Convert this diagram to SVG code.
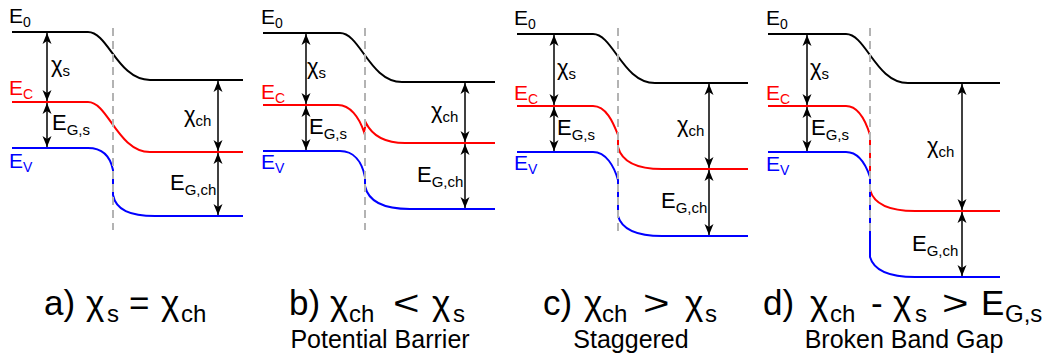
<svg xmlns="http://www.w3.org/2000/svg" width="1048" height="361" viewBox="0 0 1048 361">
<style>
text{font-family:"Liberation Sans",Arial,sans-serif;fill:#000}
.band{font-size:21px}
.bs{font-size:14px}
.lab{font-size:22px}
.ls{font-size:15px}
.cap{font-size:35px}
.cs{font-size:24px}
.sub{font-size:25px;text-anchor:middle}
.k{fill:none;stroke:#000;stroke-width:2}
.r{fill:none;stroke:#ff0000;stroke-width:2}
.b{fill:none;stroke:#0000ff;stroke-width:2}
.dash{fill:none;stroke:#b3b3b3;stroke-width:2;stroke-dasharray:8 5}
.arr{fill:none;stroke:#000;stroke-width:1.5;marker-start:url(#ah);marker-end:url(#ah)}
.red{fill:#ff0000}
.blue{fill:#0000ff}
</style>
<defs>
<marker id="ah" viewBox="-12 -5 13 10" refX="0" refY="0" markerWidth="13" markerHeight="10" markerUnits="userSpaceOnUse" orient="auto-start-reverse">
<path d="M0,0 L-11,-4.5 L-8,0 L-11,4.5 Z" fill="#000"/>
</marker>
</defs>

<g id="panel-a">
<path class="k" d="M12,32 H88 C108,32 118,80 150,80 H243"/>
<path class="r" d="M12,102 H88 C108,102 118,152 150,152 H243"/>
<path class="b" d="M12,148 H88 C102,148 110,155 113,170 V195 C116,210 130,216 155,216 H243"/>
<line class="dash" x1="113" y1="28" x2="113" y2="230"/>
<text class="band" x="9" y="23">E<tspan class="bs" dy="4">0</tspan></text>
<text class="band red" x="9" y="95">E<tspan class="bs red" dy="4">C</tspan></text>
<text class="band blue" x="9" y="168">E<tspan class="bs blue" dy="4">V</tspan></text>
<text class="lab" x="51" y="72">χ<tspan class="ls" dy="4">s</tspan></text>
<text class="lab" x="52" y="130">E<tspan class="ls" dy="5">G,s</tspan></text>
<text class="lab" x="184" y="122">χ<tspan class="ls" dy="4">ch</tspan></text>
<text class="lab" x="170" y="190">E<tspan class="ls" dy="5">G,ch</tspan></text>
</g>

<g id="panel-b">
<path class="k" d="M263,33 H340 C360,33 370,82 402,82 H495"/>
<path class="r" d="M263,105 H338 C350,105 359,117 364,132 L366,123 C372,135 385,143 405,143 H495"/>
<path class="b" d="M263,151 H340 C354,151 362,162 365,177 V186 C368,200 382,209 410,209 H495"/>
<line class="dash" x1="365" y1="28" x2="365" y2="230"/>
<text class="band" x="261" y="24">E<tspan class="bs" dy="4">0</tspan></text>
<text class="band red" x="261" y="99">E<tspan class="bs red" dy="4">C</tspan></text>
<text class="band blue" x="261" y="169">E<tspan class="bs blue" dy="4">V</tspan></text>
<text class="lab" x="307" y="74">χ<tspan class="ls" dy="4">s</tspan></text>
<text class="lab" x="309" y="134">E<tspan class="ls" dy="5">G,s</tspan></text>
<text class="lab" x="431" y="118">χ<tspan class="ls" dy="4">ch</tspan></text>
<text class="lab" x="417" y="182">E<tspan class="ls" dy="5">G,ch</tspan></text>
</g>

<g id="panel-c">
<path class="k" d="M517,34 H593 C613,34 623,83 655,83 H748"/>
<path class="r" d="M517,106 H593 C606,106 613,122 618,135 V147 C622,162 638,169 662,169 H748"/>
<path class="b" d="M517,152 H593 C606,152 614,166 618,180 V216 C622,230 638,236 662,236 H748"/>
<line class="dash" x1="618" y1="28" x2="618" y2="236"/>
<text class="band" x="514" y="25">E<tspan class="bs" dy="4">0</tspan></text>
<text class="band red" x="514" y="100">E<tspan class="bs red" dy="4">C</tspan></text>
<text class="band blue" x="514" y="170">E<tspan class="bs blue" dy="4">V</tspan></text>
<text class="lab" x="557" y="75">χ<tspan class="ls" dy="4">s</tspan></text>
<text class="lab" x="557" y="135">E<tspan class="ls" dy="5">G,s</tspan></text>
<text class="lab" x="677" y="132">χ<tspan class="ls" dy="4">ch</tspan></text>
<text class="lab" x="661" y="208">E<tspan class="ls" dy="5">G,ch</tspan></text>
</g>

<g id="panel-d">
<path class="k" d="M768,34 H846 C866,34 876,83 908,83 H1000"/>
<path class="r" d="M768,106 H846 C859,106 866,122 870,135 V190 C874,204 890,211 915,211 H1000"/>
<path class="b" d="M768,152 H846 C859,152 866,165 870,177 V257 C874,271 890,277 915,277 H1000"/>
<line class="dash" x1="870" y1="28" x2="870" y2="236"/>
<text class="band" x="766" y="25">E<tspan class="bs" dy="4">0</tspan></text>
<text class="band red" x="766" y="100">E<tspan class="bs red" dy="4">C</tspan></text>
<text class="band blue" x="766" y="171">E<tspan class="bs blue" dy="4">V</tspan></text>
<text class="lab" x="810" y="75">χ<tspan class="ls" dy="4">s</tspan></text>
<text class="lab" x="811" y="135">E<tspan class="ls" dy="5">G,s</tspan></text>
<text class="lab" x="927" y="153">χ<tspan class="ls" dy="4">ch</tspan></text>
<text class="lab" x="912" y="251">E<tspan class="ls" dy="5">G,ch</tspan></text>
</g>

<g id="connectors">
<line class="arr" x1="47" y1="33" x2="47" y2="101"/>
<line class="arr" x1="47" y1="103" x2="47" y2="147"/>
<line class="arr" x1="218" y1="81" x2="218" y2="151"/>
<line class="arr" x1="218" y1="153" x2="218" y2="215"/>
<line class="arr" x1="306" y1="34" x2="306" y2="104"/>
<line class="arr" x1="306" y1="106" x2="306" y2="150"/>
<line class="arr" x1="465" y1="83" x2="465" y2="142"/>
<line class="arr" x1="465" y1="144" x2="465" y2="208"/>
<line class="arr" x1="554" y1="35" x2="554" y2="105"/>
<line class="arr" x1="554" y1="107" x2="554" y2="151"/>
<line class="arr" x1="709" y1="84" x2="709" y2="168"/>
<line class="arr" x1="709" y1="170" x2="709" y2="235"/>
<line class="arr" x1="807" y1="35" x2="807" y2="105"/>
<line class="arr" x1="807" y1="107" x2="807" y2="151"/>
<line class="arr" x1="962" y1="84" x2="962" y2="210"/>
<line class="arr" x1="962" y1="212" x2="962" y2="276"/>
</g>

<g id="caption-a">
<text class="cap" y="315"><tspan x="44">a)</tspan><tspan x="86">χ</tspan><tspan class="cs" x="107" y="322">s</tspan><tspan x="129" y="315">=</tspan><tspan x="161">χ</tspan><tspan class="cs" x="181" y="322">ch</tspan></text>
</g>
<g id="caption-b">
<text class="cap" y="315"><tspan x="289">b)</tspan><tspan x="330">χ</tspan><tspan class="cs" x="349" y="322">ch</tspan><tspan x="432" y="315">χ</tspan><tspan class="cs" x="453" y="322">s</tspan></text>
<text class="cap" transform="translate(393,315) scale(1.3,1)">&lt;</text>
<text class="sub" x="380" y="348">Potential Barrier</text>
</g>
<g id="caption-c">
<text class="cap" y="315"><tspan x="543">c)</tspan><tspan x="584">χ</tspan><tspan class="cs" x="602" y="322">ch</tspan><tspan x="685" y="315">χ</tspan><tspan class="cs" x="705" y="322">s</tspan></text>
<text class="cap" transform="translate(643,315) scale(1.3,1)">&gt;</text>
<text class="sub" x="631" y="348">Staggered</text>
</g>
<g id="caption-d">
<text class="cap" y="315"><tspan x="763">d)</tspan><tspan x="810">χ</tspan><tspan class="cs" x="830" y="322">ch</tspan><tspan x="871" y="315">-</tspan><tspan x="893">χ</tspan><tspan class="cs" x="915" y="322">s</tspan><tspan x="981" y="315">E</tspan><tspan class="cs" x="1005" y="322">G,s</tspan></text>
<text class="cap" transform="translate(942,315) scale(1.3,1)">&gt;</text>
<text class="sub" x="904" y="348">Broken Band Gap</text>
</g>
</svg>
